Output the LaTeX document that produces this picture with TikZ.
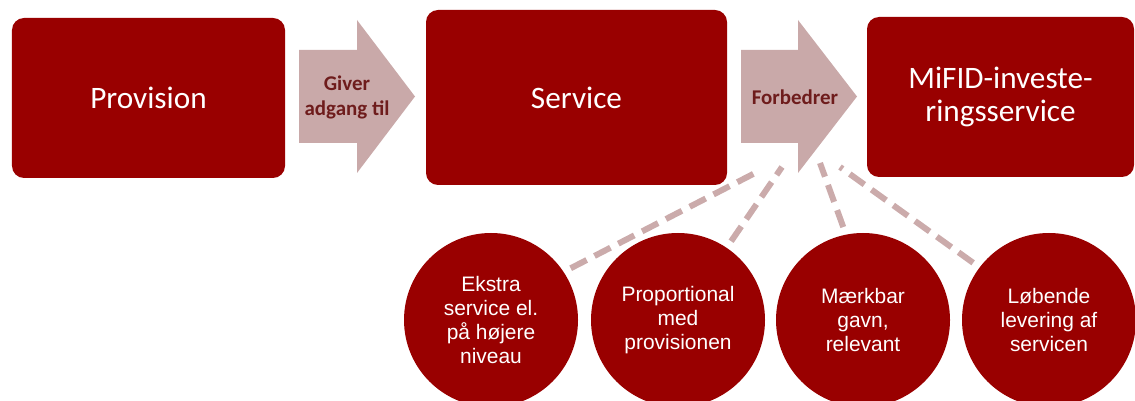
\documentclass[tikz,border=0pt]{standalone}
\usepackage{fontspec}
\setmainfont{Carlito}
\newfontfamily\circlefont{Liberation Sans}
\usepackage{tikz}
\usepackage{xcolor}

\definecolor{boxred}{HTML}{990000}
\definecolor{arrowpink}{HTML}{C9A9A9}
\definecolor{linkpink}{HTML}{CBABAB}
\definecolor{labelbrown}{HTML}{6E1C1C}

\begin{document}
\begin{tikzpicture}[
    stage/.style={fill=boxred, rounded corners=0.3cm, text=white,
                  font=\fontsize{22.2}{23.5}\selectfont, align=center},
    benefit/.style={circle, fill=boxred, minimum size=4.35cm, inner sep=0pt,
                    outer sep=0.2cm, text=white, align=center,
                    font=\circlefont\fontsize{14.9}{17.2}\selectfont},
    flow/.style={fill=arrowpink},
    flowlabel/.style={text=labelbrown, align=center,
                      font=\bfseries\fontsize{14.9}{17.8}\selectfont},
    link/.style={draw=linkpink, line width=0.15cm,
                 dash pattern=on 0.45cm off 0.22cm}
]
\useasboundingbox (0,0) rectangle (28.375,-10.025);

% ============================
% Dashed links (behind everything)
% ============================
\coordinate (c1) at (18.925,-4.3);
\coordinate (c2) at (19.55,-4.175);
\coordinate (c3) at (20.5,-4.075);
\coordinate (c4) at (21.0,-4.175);

% ============================
% Top row: boxes
% ============================
\node[stage, minimum width=6.825cm, minimum height=4.0cm]   (prov)  at (3.7125,-2.45)  {Provision};
\node[stage, minimum width=7.525cm, minimum height=4.375cm] (serv)  at (14.4125,-2.4375) {Service};
\node[stage, minimum width=6.675cm, minimum height=4.0cm]   (mifid) at (25.0125,-2.425) {MiFID-investe-\\ringsservice};

% Block arrows
\fill[flow] (7.475,-1.25) -- (8.925,-1.25) -- (8.925,-0.5) -- (10.375,-2.4125)
    -- (8.925,-4.325) -- (8.925,-3.575) -- (7.475,-3.575) -- cycle;
\fill[flow] (18.525,-1.25) -- (19.95,-1.25) -- (19.95,-0.5) -- (21.425,-2.4125)
    -- (19.95,-4.325) -- (19.95,-3.575) -- (18.525,-3.575) -- cycle;
\node[flowlabel] (give)    at (8.675,-2.425)  {Giver\\adgang til};
\node[flowlabel] (improve) at (19.875,-2.425) {Forbedrer};

% ============================
% Bottom row: circles
% ============================
\node[benefit] (e1) at (12.275,-8.0) {Ekstra\\service el.\\på højere\\niveau};
\node[benefit] (e2) at (16.95,-8.0)  {Proportional\\med\\provisionen};
\node[benefit] (e3) at (21.575,-8.0) {Mærkbar\\gavn,\\relevant};
\node[benefit] (e4) at (26.225,-8.0) {Løbende\\levering af\\servicen};

% Links from circles up to the arrow
\draw[link] (e1.33)  -- (c1);
\draw[link] (e2.56)  -- (c2);
\draw[link] (e3.102) -- (c3);
\draw[link] (e4.143) -- (c4);

\end{tikzpicture}
\end{document}
